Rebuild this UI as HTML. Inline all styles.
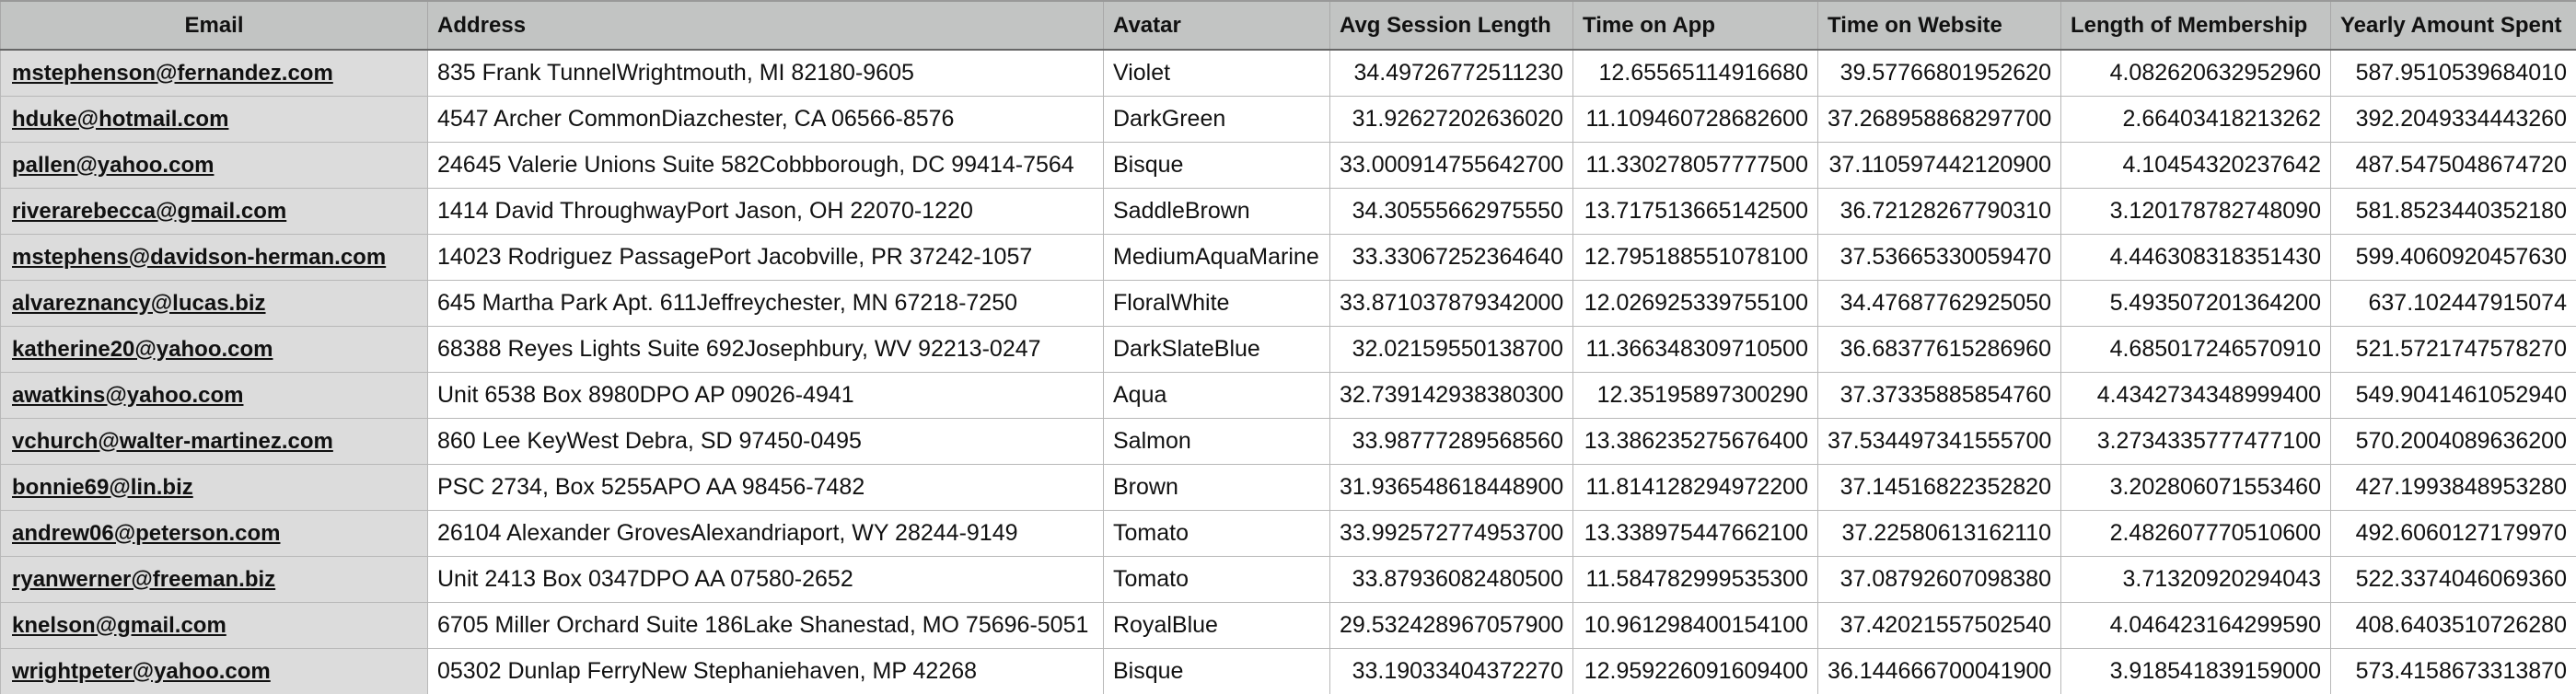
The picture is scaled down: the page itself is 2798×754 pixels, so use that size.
<!DOCTYPE html>
<html><head><meta charset="utf-8"><style>
html,body{margin:0;padding:0;background:#fff;width:2798px;height:754px;overflow:hidden}
table{border-collapse:collapse;table-layout:fixed;width:2798px;font-family:"Liberation Sans",sans-serif;font-size:25px;color:#111}
th{background:#c2c4c3;height:51px;font-size:24px;font-weight:bold;text-align:left;padding:0 10px;border:1px solid #a8a8a8;border-bottom:2px solid #666;border-top:2px solid #999;white-space:nowrap;overflow:hidden}
th.c{text-align:center}
td{height:49px;padding:0 10px;border:1px solid #b8b8b8;white-space:nowrap;overflow:hidden}
td.e{background:#dcdcdc;font-weight:bold;font-size:24px;text-decoration:underline;padding-left:12px}
td.n{text-align:right}
</style></head><body>
<table>
<colgroup><col style="width:464px"><col style="width:734px"><col style="width:246px"><col style="width:264px"><col style="width:266px"><col style="width:264px"><col style="width:293px"><col style="width:267px"></colgroup>
<thead><tr>
<th class="c">Email</th>
<th>Address</th>
<th>Avatar</th>
<th>Avg Session Length</th>
<th>Time on App</th>
<th>Time on Website</th>
<th>Length of Membership</th>
<th>Yearly Amount Spent</th>
</tr></thead>
<tbody id="tb"></tbody></table>
<script>
const rows=[
["mstephenson@fernandez.com","835 Frank TunnelWrightmouth, MI 82180-9605","Violet","34.49726772511230","12.65565114916680","39.57766801952620","4.082620632952960","587.9510539684010"],
["hduke@hotmail.com","4547 Archer CommonDiazchester, CA 06566-8576","DarkGreen","31.92627202636020","11.109460728682600","37.268958868297700","2.66403418213262","392.2049334443260"],
["pallen@yahoo.com","24645 Valerie Unions Suite 582Cobbborough, DC 99414-7564","Bisque","33.000914755642700","11.330278057777500","37.110597442120900","4.10454320237642","487.5475048674720"],
["riverarebecca@gmail.com","1414 David ThroughwayPort Jason, OH 22070-1220","SaddleBrown","34.30555662975550","13.717513665142500","36.72128267790310","3.120178782748090","581.8523440352180"],
["mstephens@davidson-herman.com","14023 Rodriguez PassagePort Jacobville, PR 37242-1057","MediumAquaMarine","33.33067252364640","12.795188551078100","37.53665330059470","4.446308318351430","599.4060920457630"],
["alvareznancy@lucas.biz","645 Martha Park Apt. 611Jeffreychester, MN 67218-7250","FloralWhite","33.871037879342000","12.026925339755100","34.47687762925050","5.493507201364200","637.102447915074"],
["katherine20@yahoo.com","68388 Reyes Lights Suite 692Josephbury, WV 92213-0247","DarkSlateBlue","32.02159550138700","11.366348309710500","36.68377615286960","4.685017246570910","521.5721747578270"],
["awatkins@yahoo.com","Unit 6538 Box 8980DPO AP 09026-4941","Aqua","32.739142938380300","12.35195897300290","37.37335885854760","4.4342734348999400","549.9041461052940"],
["vchurch@walter-martinez.com","860 Lee KeyWest Debra, SD 97450-0495","Salmon","33.98777289568560","13.386235275676400","37.534497341555700","3.2734335777477100","570.2004089636200"],
["bonnie69@lin.biz","PSC 2734, Box 5255APO AA 98456-7482","Brown","31.936548618448900","11.814128294972200","37.14516822352820","3.202806071553460","427.1993848953280"],
["andrew06@peterson.com","26104 Alexander GrovesAlexandriaport, WY 28244-9149","Tomato","33.992572774953700","13.338975447662100","37.22580613162110","2.482607770510600","492.6060127179970"],
["ryanwerner@freeman.biz","Unit 2413 Box 0347DPO AA 07580-2652","Tomato","33.87936082480500","11.584782999535300","37.08792607098380","3.71320920294043","522.3374046069360"],
["knelson@gmail.com","6705 Miller Orchard Suite 186Lake Shanestad, MO 75696-5051","RoyalBlue","29.532428967057900","10.961298400154100","37.42021557502540","4.046423164299590","408.6403510726280"],
["wrightpeter@yahoo.com","05302 Dunlap FerryNew Stephaniehaven, MP 42268","Bisque","33.19033404372270","12.959226091609400","36.144666700041900","3.918541839159000","573.4158673313870"]];
const tb=document.getElementById('tb');
rows.forEach((r,i)=>{
 const tr=document.createElement('tr');
 
 
 r.forEach((v,j)=>{
  const td=document.createElement('td');
  
  
  if(j==0)td.className='e';
  if(j>2)td.className='n';
  td.textContent=v;
  tr.appendChild(td);
 });
 tb.appendChild(tr);
});
</script>
</body></html>
